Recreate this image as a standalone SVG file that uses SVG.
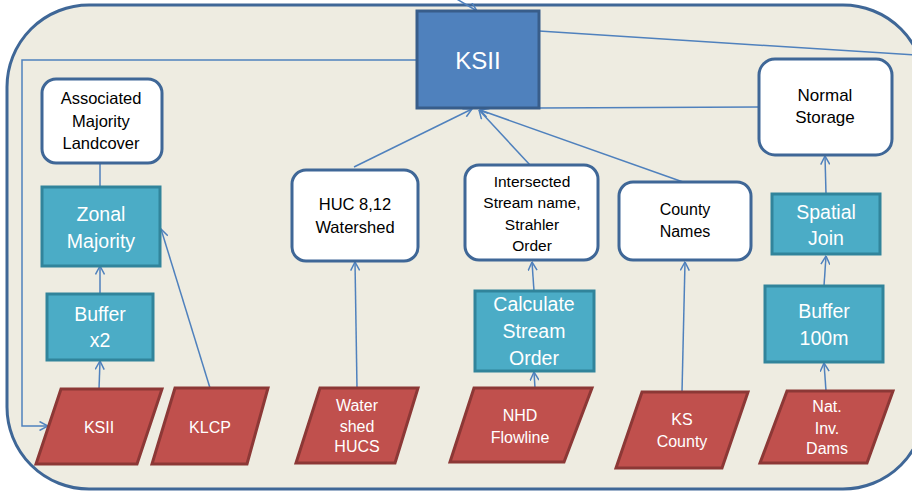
<svg xmlns="http://www.w3.org/2000/svg" width="912" height="491" viewBox="0 0 912 491">
<defs>
<marker id="ah" viewBox="0 0 10 10" refX="9.5" refY="5" markerWidth="10" markerHeight="10" markerUnits="userSpaceOnUse" orient="auto">
<path d="M1,0.5 L9.5,5 L1,9.5" fill="none" stroke="#4F81BD" stroke-width="1.5"/>
</marker>
<style>
text{font-family:"Liberation Sans",Arial,sans-serif;text-anchor:middle}
.wb{fill:#FFFFFF;stroke:#3F6797;stroke-width:3}
.wt{fill:#000000;font-size:16.5px}
.tb{fill:#4BACC6;stroke:#31849B;stroke-width:3}
.tt{fill:#FFFFFF;font-size:19.5px}
.rp{fill:#C0504D;stroke:#8C3836;stroke-width:3;stroke-linejoin:miter}
.rt{fill:#FFFFFF;font-size:16px}
.c{fill:none;stroke:#4F81BD;stroke-width:1.5}
.ca{fill:none;stroke:#4F81BD;stroke-width:1.5;marker-end:url(#ah)}
</style>
</defs>
<rect x="0" y="0" width="912" height="491" fill="#FFFFFF"/>
<rect id="frame" x="7" y="5" width="918" height="484" rx="82" ry="82" fill="#EEECE1" stroke="#3F6797" stroke-width="3"/>

<g id="connectors">
<line class="ca" x1="455" y1="-2" x2="477" y2="11"/>
<polyline class="ca" points="417,60 22,60 22,426 48,426"/>
<line class="c" x1="539" y1="31" x2="914" y2="55"/>
<line class="c" x1="539" y1="108" x2="759" y2="107"/>
<line class="ca" x1="354" y1="167" x2="472" y2="109"/>
<line class="ca" x1="530" y1="165" x2="479" y2="110"/>
<line class="ca" x1="683" y1="182" x2="480" y2="110"/>
<line class="c" x1="100" y1="163" x2="100" y2="187"/>
<line class="ca" x1="100" y1="294" x2="100" y2="266"/>
<line class="ca" x1="99" y1="389" x2="100" y2="361"/>
<line class="ca" x1="210" y1="388" x2="161" y2="229"/>
<line class="ca" x1="357" y1="388" x2="355" y2="262"/>
<line class="ca" x1="534" y1="291" x2="532" y2="262"/>
<line class="ca" x1="535" y1="388" x2="534" y2="372"/>
<line class="ca" x1="682" y1="392" x2="685" y2="262"/>
<line class="ca" x1="826" y1="194" x2="825" y2="156"/>
<line class="ca" x1="824" y1="286" x2="826" y2="256"/>
<line class="ca" x1="826" y1="391" x2="824" y2="363"/>
</g>

<g id="ksii-main">
<rect x="417" y="11" width="122" height="97" fill="#4F81BD" stroke="#385D8A" stroke-width="3"/>
<text x="478" y="69" fill="#FFFFFF" font-size="24px">KSII</text>
</g>

<g id="assoc-majority">
<rect class="wb" x="42" y="79" width="120" height="84" rx="14"/>
<text class="wt" x="101" y="104">Associated</text>
<text class="wt" x="101" y="127">Majority</text>
<text class="wt" x="101" y="149">Landcover</text>
</g>

<g id="zonal-majority">
<rect class="tb" x="42" y="187" width="118" height="79"/>
<text class="tt" x="101" y="221">Zonal</text>
<text class="tt" x="101" y="248">Majority</text>
</g>

<g id="buffer-x2">
<rect class="tb" x="47" y="294" width="106" height="66"/>
<text class="tt" x="100" y="321">Buffer</text>
<text class="tt" x="100" y="347">x2</text>
</g>

<g id="ksii-input">
<polygon class="rp" points="61,389 162,389 137,464 36,464"/>
<text class="rt" x="99" y="433">KSII</text>
</g>

<g id="klcp">
<polygon class="rp" points="175,388 268,388 247,464 152,464"/>
<text class="rt" x="210" y="433">KLCP</text>
</g>

<g id="huc-watershed">
<rect class="wb" x="292" y="170" width="126" height="91" rx="14"/>
<text class="wt" x="355" y="210">HUC 8,12</text>
<text class="wt" x="355" y="233">Watershed</text>
</g>

<g id="watershed-hucs">
<polygon class="rp" points="320,388 418,388 395,463 296,463"/>
<text class="rt" x="357" y="411">Water</text>
<text class="rt" x="357" y="432">shed</text>
<text class="rt" x="357" y="452">HUCS</text>
</g>

<g id="intersected">
<rect class="wb" x="465" y="165" width="133" height="95" rx="14"/>
<text class="wt" x="532" y="187" style="font-size:15.5px">Intersected</text>
<text class="wt" x="532" y="208" style="font-size:15.5px">Stream name,</text>
<text class="wt" x="532" y="230" style="font-size:15.5px">Strahler</text>
<text class="wt" x="532" y="251" style="font-size:15.5px">Order</text>
</g>

<g id="calc-stream-order">
<rect class="tb" x="475" y="291" width="119" height="80"/>
<text class="tt" x="534" y="311">Calculate</text>
<text class="tt" x="534" y="338">Stream</text>
<text class="tt" x="534" y="365">Order</text>
</g>

<g id="nhd-flowline">
<polygon class="rp" points="474,388 592,388 564,462 450,462"/>
<text class="rt" x="520" y="421">NHD</text>
<text class="rt" x="520" y="443">Flowline</text>
</g>

<g id="county-names">
<rect class="wb" x="619" y="182" width="132" height="78" rx="14"/>
<text class="wt" x="685" y="215" style="font-size:16px">County</text>
<text class="wt" x="685" y="237" style="font-size:16px">Names</text>
</g>

<g id="ks-county">
<polygon class="rp" points="642,392 748,392 722,468 616,468"/>
<text class="rt" x="682" y="425">KS</text>
<text class="rt" x="682" y="447">County</text>
</g>

<g id="normal-storage">
<rect class="wb" x="759" y="59" width="133" height="96" rx="16"/>
<text class="wt" x="825" y="101" style="font-size:17px">Normal</text>
<text class="wt" x="825" y="123" style="font-size:17px">Storage</text>
</g>

<g id="spatial-join">
<rect class="tb" x="772" y="194" width="108" height="60"/>
<text class="tt" x="826" y="219">Spatial</text>
<text class="tt" x="826" y="245">Join</text>
</g>

<g id="buffer-100m">
<rect class="tb" x="765" y="286" width="118" height="76"/>
<text class="tt" x="824" y="318">Buffer</text>
<text class="tt" x="824" y="345">100m</text>
</g>

<g id="nat-inv-dams">
<polygon class="rp" points="787,391 893,391 867,463 760,463"/>
<text class="rt" x="827" y="412">Nat.</text>
<text class="rt" x="827" y="434">Inv.</text>
<text class="rt" x="827" y="454">Dams</text>
</g>
</svg>
